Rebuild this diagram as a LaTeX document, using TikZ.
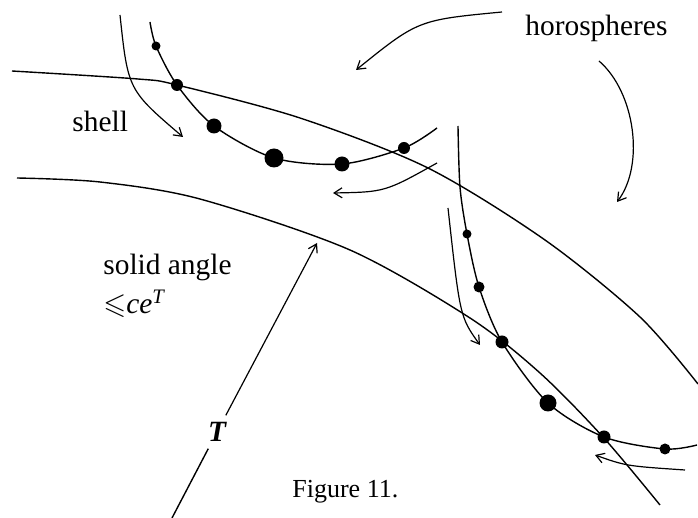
\documentclass[tikz,border=0pt]{standalone}
\usepackage{fontspec}
\setmainfont{Liberation Serif}
\usepackage{amssymb}
\usetikzlibrary{positioning,arrows.meta}

\begin{document}
\begin{tikzpicture}[
    x=0.5pt, y=-0.5pt,
    font=\fontsize{14.7}{17}\selectfont,
    curve/.style={line width=0.7pt},
    flow/.style={line width=0.6pt, -{Straight Barb[length=4pt,width=5pt]}},
    bead/.style={circle, fill, inner sep=0pt, minimum size=#1},
    lbl/.style={anchor=base west, inner sep=0pt}
]
\useasboundingbox (0,0) rectangle (698,518);

% shell boundaries
\draw[curve] plot[smooth] coordinates {(12,71) (138,79) (177,85) (300,118) (428,168) (545,240) (640,317) (698,384)};
\draw[curve] plot[smooth] coordinates {(17,178) (100,182) (200,199) (350,250) (470,318) (540,373) (603,437) (660,505)};

% horospheres with their points
\foreach \p/\s [count=\i] in {{156,46}/4.5pt, {177,85}/6pt, {214,126}/7.5pt, {274,158}/9.5pt, {342,164}/7.5pt, {404,148}/6pt}
  \node[bead=\s] (u\i) at (\p) {};
\foreach \p/\s [count=\i] in {{467,234}/4.5pt, {479,287}/5.5pt, {502,342}/6.5pt, {548,403}/8.5pt, {604,437}/6.5pt, {665,449}/5.5pt}
  \node[bead=\s] (v\i) at (\p) {};
\draw[curve] plot[smooth] coordinates {(150,22) (u1.center) (u2.center) (u3.center) (u4.center) (u5.center) (u6.center) (437,128)};
\draw[curve] plot[smooth] coordinates {(458,126) (460,187) (v1.center) (v2.center) (v3.center) (v4.center) (v5.center) (v6.center) (697,445)};

% flow along the horospheres
\coordinate (f1s) at (120,15);  \coordinate (f1e) at (183,137);
\coordinate (f2s) at (437,163); \coordinate (f2e) at (333,193);
\coordinate (f3s) at (448,208); \coordinate (f3e) at (480,345);
\coordinate (f4s) at (685,470); \coordinate (f4e) at (595,455);
\draw[flow] (f1s) .. controls (128,90) .. (f1e);
\draw[flow] (f2s) .. controls (385,192) .. (f2e);
\draw[flow] (f3s) .. controls (460,317) .. (f3e);
\draw[flow] (f4s) .. controls (626,466) .. (f4e);

% labels
\node[lbl] (horo) at (525,36) {horospheres};
\node[lbl] (shell) at (72,132) {shell};
\node[lbl] (solid) at (103,275) {solid angle};
\node[lbl] (bound) at (103,314) {$\leqslant$\textit{ce}\textsuperscript{\textit{T}}};
\node[lbl, font=\fontsize{13}{15}\selectfont] (cap) at (292,498) {Figure 11.};

\coordinate (ha) at (356,70);
\coordinate (hb) at (617,202);
\draw[flow] (502,12) .. controls (418,20) .. (ha);
\draw[flow] (599,61) .. controls (635,92) and (645,165) .. (hb);

\node[font=\fontsize{14.7}{17}\bfseries\itshape] (tlab) at (217,432) {T};
\coordinate (tbot) at (172,518);
\coordinate (ttip) at (317,243);
\draw[curve] (tbot) -- (tlab);
\draw[flow] (tlab) -- (ttip);
\end{tikzpicture}
\end{document}
